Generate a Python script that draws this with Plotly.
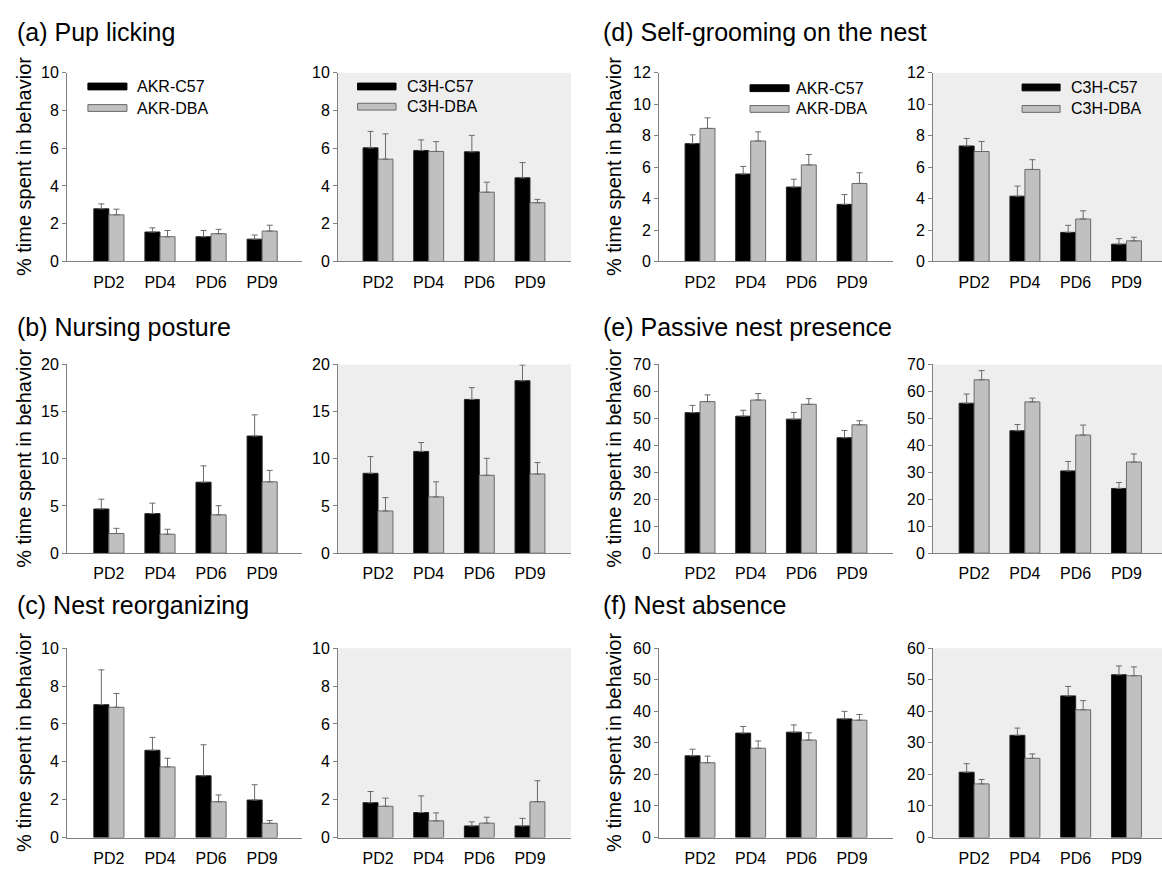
import plotly.graph_objects as go

days = ["PD2", "PD4", "PD6", "PD9"]
groups_akr = ["AKR-C57", "AKR-DBA"]
groups_c3h = ["C3H-C57", "C3H-DBA"]

# (a) Pup licking
lick_akr_c57 = [2.79, 1.56, 1.31, 1.18]
lick_akr_c57_se = [0.26, 0.22, 0.33, 0.22]
lick_akr_dba = [2.47, 1.31, 1.47, 1.61]
lick_akr_dba_se = [0.30, 0.33, 0.23, 0.31]
lick_c3h_c57 = [6.02, 5.88, 5.81, 4.43]
lick_c3h_c57_se = [0.87, 0.56, 0.87, 0.81]
lick_c3h_dba = [5.42, 5.83, 3.67, 3.11]
lick_c3h_dba_se = [1.34, 0.52, 0.53, 0.18]

# (b) Nursing posture
nurse_akr_c57 = [4.68, 4.19, 7.52, 12.41]
nurse_akr_c57_se = [1.04, 1.11, 1.73, 2.25]
nurse_akr_dba = [2.08, 2.01, 4.06, 7.56]
nurse_akr_dba_se = [0.55, 0.52, 0.97, 1.21]
nurse_c3h_c57 = [8.46, 10.78, 16.29, 18.27]
nurse_c3h_c57_se = [1.77, 0.94, 1.25, 1.66]
nurse_c3h_dba = [4.47, 5.96, 8.25, 8.39]
nurse_c3h_dba_se = [1.42, 1.60, 1.80, 1.21]

# (c) Nest reorganizing
reorg_akr_c57 = [7.02, 4.61, 3.26, 1.98]
reorg_akr_c57_se = [1.84, 0.68, 1.64, 0.81]
reorg_akr_dba = [6.88, 3.73, 1.89, 0.75]
reorg_akr_dba_se = [0.73, 0.46, 0.36, 0.15]
reorg_c3h_c57 = [1.84, 1.32, 0.61, 0.61]
reorg_c3h_c57_se = [0.59, 0.88, 0.22, 0.40]
reorg_c3h_dba = [1.65, 0.88, 0.76, 1.89]
reorg_c3h_dba_se = [0.43, 0.42, 0.31, 1.11]

# (d) Self-grooming on the nest
groom_akr_c57 = [7.49, 5.56, 4.73, 3.63]
groom_akr_c57_se = [0.56, 0.48, 0.50, 0.62]
groom_akr_dba = [8.46, 7.66, 6.14, 4.96]
groom_akr_dba_se = [0.67, 0.58, 0.66, 0.68]
groom_c3h_c57 = [7.34, 4.15, 1.85, 1.10]
groom_c3h_c57_se = [0.48, 0.64, 0.45, 0.35]
groom_c3h_dba = [6.99, 5.85, 2.70, 1.31]
groom_c3h_dba_se = [0.64, 0.62, 0.52, 0.23]

# (e) Passive nest presence
passive_akr_c57 = [52.1, 50.8, 49.7, 42.8]
passive_akr_c57_se = [2.7, 2.2, 2.5, 2.7]
passive_akr_dba = [56.2, 56.8, 55.2, 47.6]
passive_akr_dba_se = [2.5, 2.4, 2.1, 1.5]
passive_c3h_c57 = [55.6, 45.4, 30.5, 24.0]
passive_c3h_c57_se = [3.4, 2.3, 3.5, 2.2]
passive_c3h_dba = [64.3, 56.1, 43.8, 33.8]
passive_c3h_dba_se = [3.4, 1.4, 3.7, 3.0]

# (f) Nest absence
absent_akr_c57 = [25.9, 33.1, 33.4, 37.6]
absent_akr_c57_se = [2.1, 2.1, 2.3, 2.4]
absent_akr_dba = [23.7, 28.3, 30.9, 37.2]
absent_akr_dba_se = [2.1, 2.3, 2.3, 1.8]
absent_c3h_c57 = [20.7, 32.4, 44.9, 51.6]
absent_c3h_c57_se = [2.7, 2.3, 3.0, 2.8]
absent_c3h_dba = [17.0, 25.1, 40.5, 51.3]
absent_c3h_dba_se = [1.4, 1.4, 2.9, 2.8]

titles = ["(a) Pup licking", "(b) Nursing posture", "(c) Nest reorganizing",
          "(d) Self-grooming on the nest", "(e) Passive nest presence", "(f) Nest absence"]
y_max = [10, 20, 10, 12, 70, 60]
y_step = [2, 5, 2, 2, 10, 10]
y_title = "% time spent in behavior"

behaviors = [
    (lick_akr_c57, lick_akr_c57_se, lick_akr_dba, lick_akr_dba_se,
     lick_c3h_c57, lick_c3h_c57_se, lick_c3h_dba, lick_c3h_dba_se),
    (nurse_akr_c57, nurse_akr_c57_se, nurse_akr_dba, nurse_akr_dba_se,
     nurse_c3h_c57, nurse_c3h_c57_se, nurse_c3h_dba, nurse_c3h_dba_se),
    (reorg_akr_c57, reorg_akr_c57_se, reorg_akr_dba, reorg_akr_dba_se,
     reorg_c3h_c57, reorg_c3h_c57_se, reorg_c3h_dba, reorg_c3h_dba_se),
    (groom_akr_c57, groom_akr_c57_se, groom_akr_dba, groom_akr_dba_se,
     groom_c3h_c57, groom_c3h_c57_se, groom_c3h_dba, groom_c3h_dba_se),
    (passive_akr_c57, passive_akr_c57_se, passive_akr_dba, passive_akr_dba_se,
     passive_c3h_c57, passive_c3h_c57_se, passive_c3h_dba, passive_c3h_dba_se),
    (absent_akr_c57, absent_akr_c57_se, absent_akr_dba, absent_akr_dba_se,
     absent_c3h_c57, absent_c3h_c57_se, absent_c3h_dba, absent_c3h_dba_se),
]

W, H = 1162, 872
FONT = "Liberation Sans, Arial, sans-serif"
BLACK = "#000000"
GREY = "#c0c0c0"
AXIS = "#808080"
PANEL_BG = "#eeeeee"

# Panel geometry in pixels
col_px = [(67, 302), (338, 571), (659, 893), (933, 1162)]
col_rng = [[-0.82, 3.78], [-0.79, 3.81], [-0.81, 3.81], [-0.81, 3.70]]
row_px = [(66, 258.5), (363.5, 556), (653, 846)]
title_y_px = [24, 325, 609]
title_x_px = [15, 601]
ytitle_x_px = [24, 614]

fig = go.Figure()
layout = dict(
    width=W, height=H,
    margin=dict(l=0, r=0, t=0, b=0),
    paper_bgcolor="white", plot_bgcolor="rgba(0,0,0,0)",
    barmode="group", bargap=0.41, bargroupgap=0,
    showlegend=False,
    font=dict(family=FONT, size=16, color="#000000"),
)
annotations = []
shapes = []


def err(se):
    return dict(type="data", array=se, arrayminus=[0] * len(se), symmetric=False,
                color="#6a6a6a", thickness=1, width=3)


for b, data in enumerate(behaviors):
    side = b // 3          # 0: left block, 1: right block
    row = b % 3
    for half in range(2):  # 0: AKR panel, 1: C3H panel
        col = side * 2 + half
        idx = row * 4 + col + 1
        xs = "x" if idx == 1 else f"x{idx}"
        ys = "y" if idx == 1 else f"y{idx}"
        c57, c57_se, dba, dba_se = data[half * 4: half * 4 + 4]
        names = groups_akr if half == 0 else groups_c3h
        fig.add_trace(go.Bar(x=days, y=c57, name=names[0], xaxis=xs, yaxis=ys,
                             marker=dict(color=BLACK, line=dict(color="#222222", width=1)),
                             error_y=err(c57_se), offsetgroup="a"))
        fig.add_trace(go.Bar(x=days, y=dba, name=names[1], xaxis=xs, yaxis=ys,
                             marker=dict(color=GREY, line=dict(color="#6a6a6a", width=1)),
                             error_y=err(dba_se), offsetgroup="b"))

        x0, x1 = col_px[col]
        r0, r1 = row_px[row]
        xkey = "xaxis" if idx == 1 else f"xaxis{idx}"
        ykey = "yaxis" if idx == 1 else f"yaxis{idx}"
        layout[xkey] = dict(
            domain=[x0 / W, x1 / W], anchor=ys, range=col_rng[col],
            showline=True, linecolor=AXIS, linewidth=1, ticks="",
            showgrid=False, zeroline=False, ticklabelstandoff=6,
            tickfont=dict(size=16, family=FONT, color="#000000"), fixedrange=True,
        )
        layout[ykey] = dict(
            domain=[1 - r1 / H, 1 - r0 / H], anchor=xs, range=[0, y_max[b]],
            dtick=y_step[b], tick0=0,
            showline=True, linecolor=AXIS, linewidth=1,
            ticks="outside", ticklen=4, tickcolor=AXIS, tickwidth=1,
            showgrid=False, zeroline=False,
            tickfont=dict(size=16, family=FONT, color="#000000"), fixedrange=True,
        )
        if half == 1:
            shapes.append(dict(type="rect", xref=f"{xs} domain", yref=f"{ys} domain",
                               x0=0, x1=1, y0=0, y1=1, fillcolor=PANEL_BG,
                               line=dict(width=0), layer="below"))

    # Panel title and shared y-axis title for this behavior
    annotations.append(dict(text=titles[b], xref="paper", yref="paper",
                            x=title_x_px[side] / W, y=1 - title_y_px[row] / H,
                            xanchor="left", yanchor="middle", showarrow=False,
                            font=dict(size=25, family=FONT, color="#000000")))
    r0, r1 = row_px[row]
    annotations.append(dict(text=y_title, xref="paper", yref="paper",
                            x=ytitle_x_px[side] / W, y=1 - (r0 + r1) / 2 / H,
                            xanchor="center", yanchor="middle", textangle=-90,
                            showarrow=False,
                            font=dict(size=20, family=FONT, color="#000000")))

# Legends drawn in the top-row panels
legend_specs = [
    # (axis index, swatch x0, swatch x1, text x, y of first row, y of second row) in domain units
    (1, 0.089, 0.255, 0.289, 0.927, 0.813, groups_akr),
    (2, 0.084, 0.249, 0.288, 0.927, 0.820, groups_c3h),
    (3, 0.389, 0.556, 0.577, 0.918, 0.808, groups_akr),
    (4, 0.389, 0.555, 0.594, 0.922, 0.808, groups_c3h),
]
for idx, sx0, sx1, tx, ya, yb, names in legend_specs:
    xs = "x" if idx == 1 else f"x{idx}"
    ys = "y" if idx == 1 else f"y{idx}"
    for yy, fill, edge, name in [(ya, BLACK, BLACK, names[0]), (yb, GREY, "#6a6a6a", names[1])]:
        shapes.append(dict(type="rect", xref=f"{xs} domain", yref=f"{ys} domain",
                           x0=sx0, x1=sx1, y0=yy - 0.018, y1=yy + 0.018,
                           fillcolor=fill, line=dict(color=edge, width=1)))
        annotations.append(dict(text=name, xref=f"{xs} domain", yref=f"{ys} domain",
                                x=tx, y=yy, xanchor="left", yanchor="middle",
                                showarrow=False,
                                font=dict(size=16, family=FONT, color="#000000")))

layout["annotations"] = annotations
layout["shapes"] = shapes
fig.update_layout(**layout)
fig.write_html("out.html")
